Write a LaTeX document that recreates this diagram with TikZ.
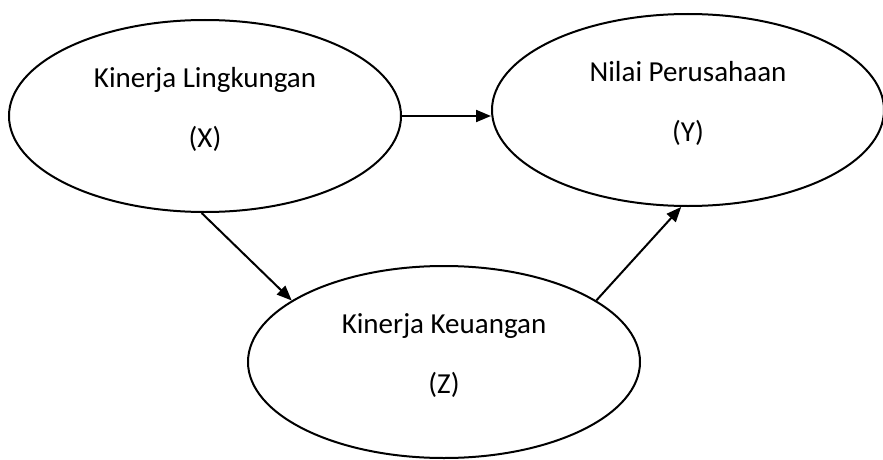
\documentclass[tikz,border=0pt]{standalone}
\usepackage{fontspec}
\setmainfont{Carlito}
\usetikzlibrary{arrows.meta, shapes.geometric}
\tikzset{
  var/.style={draw, ellipse, line width=2pt, align=center, inner sep=0pt,
              minimum width=392pt, minimum height=192pt, text depth=17pt,
              font=\fontsize{29}{60}\selectfont},
  ar/.style={-{Triangle[length=15pt, width=12pt]}, line width=2pt},
}

\begin{document}
\begin{tikzpicture}[x=1pt, y=-1pt]
  \useasboundingbox (0,0) rectangle (883,460);

  \node[var] (lingk) at (205,116) {Kinerja Lingkungan\\(X)};
  \node[var] (nilai) at (688,110) {Nilai Perusahaan\\(Y)};
  \node[var] (keu)   at (444,362) {Kinerja Keuangan\\(Z)};

  \draw[ar] (lingk.east) -- (lingk.east -| nilai.west);
  \draw[ar] (lingk.-92) -- (keu.158);
  \draw[ar] (keu.22) -- (nilai.266);
\end{tikzpicture}
\end{document}
